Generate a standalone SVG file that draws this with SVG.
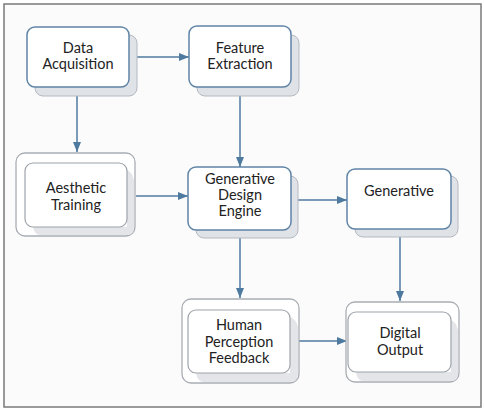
<svg xmlns="http://www.w3.org/2000/svg" width="484" height="410" viewBox="0 0 484 410">
<defs>
<marker id="ah" markerWidth="10" markerHeight="8" refX="10" refY="4" orient="auto" markerUnits="userSpaceOnUse">
<path d="M0,0 L10,4 L0,8 Z" fill="#4f7aa0"/>
</marker>
<style>
.frame{fill:#fbfbfb;stroke:#7a7a7a;stroke-width:1.5}
.shadow{fill:#dfe2e6;stroke:#b4bac2;stroke-width:1}
.front{fill:#ffffff;stroke:#5f84a6;stroke-width:1.5}
.outer{fill:#ffffff;stroke:#a9adb3;stroke-width:1.3}
.inner{fill:#ffffff;stroke:#9ea3aa;stroke-width:1.2}
.ishadow{fill:#e3e5e8;stroke:none}
.t{font-family:Lato,"Liberation Sans",sans-serif;font-size:14.5px;fill:#222;text-anchor:middle}
.c{stroke:#4f7aa0;stroke-width:1.5;fill:none;marker-end:url(#ah)}
</style>
</defs>
<rect class="frame" x="4" y="4" width="477" height="403"/>
<g id="connectors">
<line class="c" x1="130" y1="57" x2="189" y2="57"/>
<line class="c" x1="77" y1="87" x2="77" y2="152"/>
<line class="c" x1="240" y1="87" x2="240" y2="167"/>
<line class="c" x1="136" y1="196" x2="188" y2="196"/>
<line class="c" x1="298" y1="200" x2="347" y2="200"/>
<line class="c" x1="400" y1="229" x2="400" y2="301"/>
<line class="c" x1="240" y1="238" x2="240" y2="298"/>
<line class="c" x1="291" y1="341" x2="347" y2="341"/>
</g>
<g id="data-acquisition">
<rect class="shadow" x="35" y="35" width="102" height="61" rx="8"/>
<rect class="front" x="27" y="27" width="102" height="60" rx="8"/>
<text class="t" x="78" y="53">Data</text>
<text class="t" x="78" y="69">Acquisition</text>
</g>
<g id="feature-extraction">
<rect class="shadow" x="197" y="35" width="102" height="61" rx="8"/>
<rect class="front" x="189" y="26" width="102" height="61" rx="8"/>
<text class="t" x="240" y="53">Feature</text>
<text class="t" x="240" y="69">Extraction</text>
</g>
<g id="aesthetic-training">
<rect class="outer" x="16" y="153" width="119" height="83" rx="9"/>
<path class="ishadow" d="M33,227 L127,227 L127,170 Q132,172 134,180 L134,228 Q134,235 127,235 L40,235 Q34,234 33,227 Z"/>
<rect class="inner" x="25" y="163" width="102" height="64" rx="8"/>
<text class="t" x="76" y="193">Aesthetic</text>
<text class="t" x="76" y="210">Training</text>
</g>
<g id="generative-design-engine">
<rect class="shadow" x="196" y="176" width="102" height="62" rx="8"/>
<rect class="front" x="188" y="167" width="103" height="63" rx="8"/>
<text class="t" x="240" y="184">Generative</text>
<text class="t" x="240" y="200">Design</text>
<text class="t" x="240" y="216">Engine</text>
</g>
<g id="generative">
<rect class="shadow" x="355" y="176" width="103" height="61" rx="8"/>
<rect class="front" x="347" y="169" width="104" height="60" rx="8"/>
<text class="t" x="399" y="196">Generative</text>
</g>
<g id="human-perception-feedback">
<rect class="outer" x="182" y="299" width="117" height="84" rx="9"/>
<path class="ishadow" d="M196,373 L290,373 L290,317 Q296,319 298,327 L298,374 Q298,382 290,382 L203,382 Q197,381 196,373 Z"/>
<rect class="inner" x="188" y="310" width="102" height="63" rx="8"/>
<text class="t" x="239" y="330">Human</text>
<text class="t" x="239" y="347">Perception</text>
<text class="t" x="239" y="363">Feedback</text>
</g>
<g id="digital-output">
<rect class="outer" x="346" y="302" width="113" height="80" rx="9"/>
<path class="ishadow" d="M356,372 L451,372 L451,320 Q456,322 458,330 L458,374 Q458,381 451,381 L362,381 Q357,380 356,372 Z"/>
<rect class="inner" x="348" y="312" width="103" height="60" rx="8"/>
<text class="t" x="400" y="338">Digital</text>
<text class="t" x="400" y="355">Output</text>
</g>
</svg>
